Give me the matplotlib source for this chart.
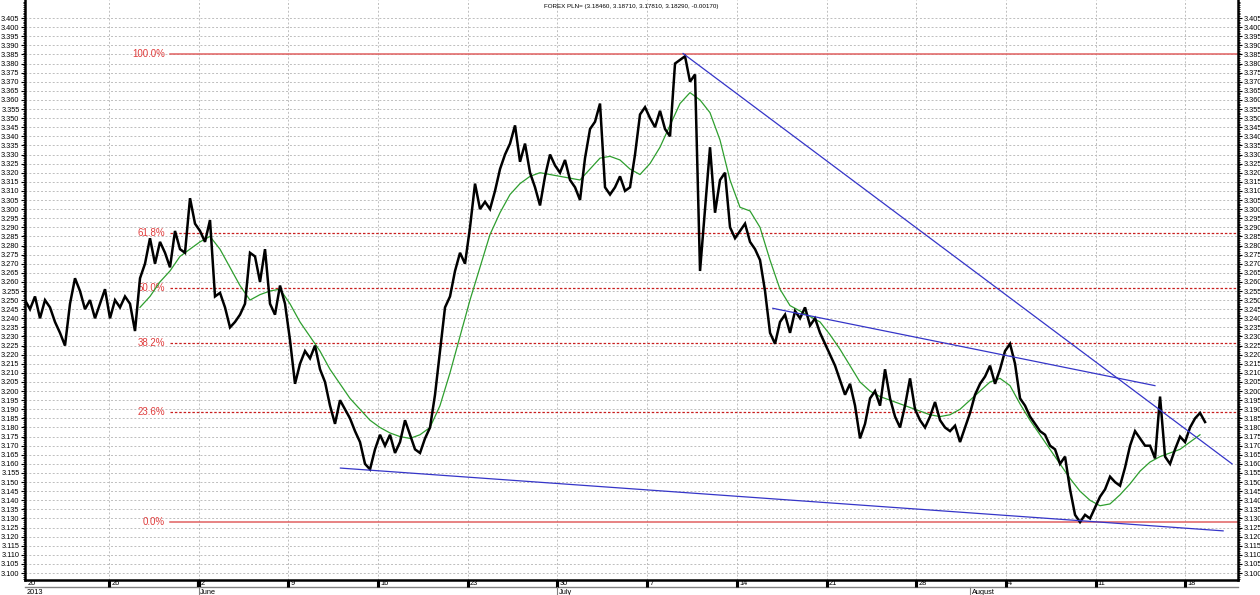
import matplotlib
matplotlib.use("Agg")
import matplotlib.pyplot as plt
import numpy as np

plt.rcParams['font.family'] = ['Liberation Sans', 'DejaVu Sans']

# ---------------- data ----------------
# x axis in trading days since Mon 27 May 2013 (one week = 5 trading days)
price_start_day = -4.68
price_step_day = 0.2787
price = [
    3.250, 3.245, 3.252, 3.240, 3.250, 3.246, 3.238, 3.232, 3.225, 3.248,
    3.262, 3.255, 3.245, 3.250, 3.240, 3.248, 3.256, 3.240, 3.250, 3.246,
    3.252, 3.248, 3.233, 3.262, 3.270, 3.284, 3.270, 3.282, 3.276, 3.268,
    3.288, 3.278, 3.276, 3.306, 3.292, 3.288, 3.282, 3.294, 3.252, 3.254,
    3.246, 3.235, 3.238, 3.242, 3.248, 3.276, 3.274, 3.260, 3.278, 3.248,
    3.242, 3.258, 3.248, 3.228, 3.204, 3.215, 3.222, 3.218, 3.225, 3.212,
    3.205, 3.192, 3.182, 3.195, 3.190, 3.185, 3.178, 3.172, 3.160, 3.157,
    3.168, 3.176, 3.170, 3.176, 3.166, 3.172, 3.184, 3.176, 3.168, 3.166,
    3.174, 3.180, 3.198, 3.222, 3.246, 3.252, 3.266, 3.276, 3.270, 3.290,
    3.314, 3.300, 3.304, 3.300, 3.310, 3.322, 3.330, 3.336, 3.346, 3.326,
    3.336, 3.320, 3.312, 3.302, 3.318, 3.330, 3.324, 3.320, 3.327, 3.316,
    3.312, 3.305, 3.328, 3.344, 3.348, 3.358, 3.312, 3.308, 3.312, 3.318,
    3.310, 3.312, 3.330, 3.352, 3.356, 3.350, 3.345, 3.354, 3.344, 3.340,
    3.380, 3.382, 3.384, 3.370, 3.374, 3.266, 3.300, 3.334, 3.298, 3.316,
    3.320, 3.290, 3.284, 3.288, 3.292, 3.282, 3.278, 3.272, 3.255, 3.232,
    3.226, 3.238, 3.242, 3.232, 3.244, 3.240, 3.246, 3.236, 3.240, 3.232,
    3.226, 3.220, 3.214, 3.206, 3.198, 3.204, 3.192, 3.174, 3.182, 3.196,
    3.200, 3.192, 3.212, 3.196, 3.186, 3.180, 3.192, 3.207, 3.190, 3.184,
    3.180, 3.186, 3.194, 3.184, 3.180, 3.178, 3.181, 3.172, 3.180, 3.188,
    3.198, 3.204, 3.208, 3.214, 3.204, 3.212, 3.222, 3.226, 3.215, 3.196,
    3.192, 3.186, 3.182, 3.178, 3.176, 3.170, 3.168, 3.160, 3.164, 3.146,
    3.132, 3.128, 3.132, 3.130, 3.136, 3.142, 3.146, 3.153, 3.150, 3.148,
    3.158, 3.170, 3.178, 3.174, 3.170, 3.170, 3.163, 3.197, 3.164, 3.160,
    3.168, 3.175, 3.172, 3.180, 3.185, 3.188, 3.183,
]

ma_start_day = 1.728
ma_step_day = 0.5574
moving_avg = [
    3.246, 3.252, 3.260, 3.266, 3.274, 3.278, 3.282, 3.285, 3.278, 3.268,
    3.258, 3.250, 3.253, 3.255, 3.256, 3.248, 3.238, 3.230, 3.222, 3.212,
    3.204, 3.196, 3.190, 3.184, 3.180, 3.177, 3.175, 3.174, 3.176, 3.180,
    3.192, 3.210, 3.230, 3.250, 3.268, 3.286, 3.298, 3.308, 3.314, 3.318,
    3.320, 3.319, 3.318, 3.317, 3.316, 3.322, 3.328, 3.329, 3.327, 3.322,
    3.319, 3.325, 3.334, 3.346, 3.358, 3.364, 3.360, 3.353, 3.338, 3.316,
    3.301, 3.299, 3.290, 3.272, 3.256, 3.247, 3.244, 3.241, 3.238, 3.231,
    3.223, 3.214, 3.205, 3.200, 3.197, 3.195, 3.193, 3.191, 3.189, 3.187,
    3.186, 3.187, 3.190, 3.195, 3.200, 3.205, 3.207, 3.203, 3.193, 3.184,
    3.176, 3.168, 3.160, 3.152, 3.145, 3.140, 3.137, 3.138, 3.143, 3.149,
    3.156, 3.161, 3.164, 3.166, 3.168, 3.172, 3.176,
]

fib_low = 3.128
fib_high = 3.3855
fib_levels = [0.0, 0.236, 0.382, 0.5, 0.618, 1.0]
fib_labels = ["0.0%", "23.6%", "38.2%", "50.0%", "61.8%", "100.0%"]
fib_start_day = 3.40

# trend lines: (day0, value0, day1, value1)
trend_lines = [
    (32.0, 3.3855, 62.6, 3.160),
    (37.0, 3.2455, 58.3, 3.203),
    (12.9, 3.1577, 62.1, 3.1232),
]

week_tick_days = [-4.68, 0, 5, 10, 15, 20, 25, 30, 35, 40, 45, 50, 55, 60]
week_tick_labels = ["20", "26", "2", "9", "16", "23", "30", "7", "14", "21", "28", "4", "11", "18"]
month_days = [-4.68, 5, 25, 48.0]
month_labels = ["2013", "June", "July", "August"]

title = "FOREX PLN= (3.18460, 3.18710, 3.17810, 3.18290, -0.00170)"

# ---------------- figure ----------------
W, H = 1260, 595
fig = plt.figure(figsize=(W / 100, H / 100), dpi=100)
fig.patch.set_facecolor("white")

ax_l, ax_r, ax_top, ax_bot = 25, 1238, 0, 580
ax = fig.add_axes([ax_l / W, (H - ax_bot) / H, (ax_r - ax_l) / W, (ax_bot - ax_top) / H])

xlim = (-4.68, 62.93)
ylim = (3.0962, 3.4149)
ax.set_xlim(*xlim)
ax.set_ylim(*ylim)

grid_kw = dict(color="#bdbdbd", lw=0.7, ls=(0, (2, 2)), zorder=0)
for v in np.arange(3.100, 3.4051, 0.005):
    ax.axhline(v, **grid_kw)
for d in week_tick_days[1:]:
    ax.axvline(d, **grid_kw)

# fib lines
rng = fib_high - fib_low
for lev, lab in zip(fib_levels, fib_labels):
    val = fib_low + lev * rng
    if lev in (0.0, 1.0):
        ax.plot([fib_start_day, xlim[1]], [val, val], color="#e06060", lw=1.1, zorder=2)
    else:
        ax.plot([fib_start_day, xlim[1]], [val, val], color="#c81e1e", lw=0.9,
                ls=(0, (2, 1.5)), zorder=2)
    ax.text(fib_start_day - 0.28, val, lab, color="#e03c3c", fontsize=7,
            ha="right", va="center", zorder=2)

# price and MA
px = price_start_day + price_step_day * np.arange(len(price))
ax.plot(px, price, color="black", lw=1.8, zorder=4, solid_joinstyle="miter")
mx = ma_start_day + ma_step_day * np.arange(len(moving_avg))
ax.plot(mx, moving_avg, color="#2e9e2e", lw=0.9, zorder=3)

for d0, v0, d1, v1 in trend_lines:
    ax.plot([d0, d1], [v0, v1], color="#3535c8", lw=0.9, zorder=5)

ax.text(0.5, 0.993, title, transform=ax.transAxes, ha="center", va="top", fontsize=4.5)

# y axis
yt = np.arange(3.100, 3.4051, 0.005)
ax.set_yticks(yt)
ax.set_yticklabels([f"{v:.3f}" for v in yt])
ax.set_yticks(np.arange(3.097, 3.4141, 0.001), minor=True)
ax.tick_params(axis="y", which="major", labelsize=5.3, length=3, width=0.8, pad=1,
               left=True, right=True, labelleft=True, labelright=True, direction="out")
ax.tick_params(axis="y", which="minor", length=1.5, width=0.6, left=True, right=True)
ax.tick_params(axis="x", bottom=False, labelbottom=False)
for s in ax.spines.values():
    s.set_linewidth(0.8)
ax.spines["left"].set_linewidth(1.8)
ax.spines["right"].set_linewidth(1.8)
ax.spines["bottom"].set_linewidth(1.8)
ax.spines["top"].set_visible(False)

# date strip
strip = fig.add_axes([ax_l / W, 0, (ax_r - ax_l) / W, (H - ax_bot) / H])
strip.set_xlim(*xlim)
strip.set_ylim(0, 1)
strip.axis("off")
strip.axhline(0.52, color="#808080", lw=1.0, clip_on=False)
for i, (d, lab) in enumerate(zip(week_tick_days, week_tick_labels)):
    if i > 0:
        strip.plot([d, d], [0.52, 1.0], color="black", lw=2.2 if d != 5 else 3, clip_on=False,
                   solid_capstyle="butt")
    strip.text(d + 0.12, 0.76, lab, fontsize=5.3, ha="left", va="center")
for d, lab in zip(month_days, month_labels):
    if d > -4:
        strip.plot([d, d], [0.0, 0.52], color="#808080", lw=0.8, clip_on=False)
    strip.text(d + 0.08, 0.2, lab, fontsize=5.3, ha="left", va="center")

fig.savefig("out.png", dpi=100)
